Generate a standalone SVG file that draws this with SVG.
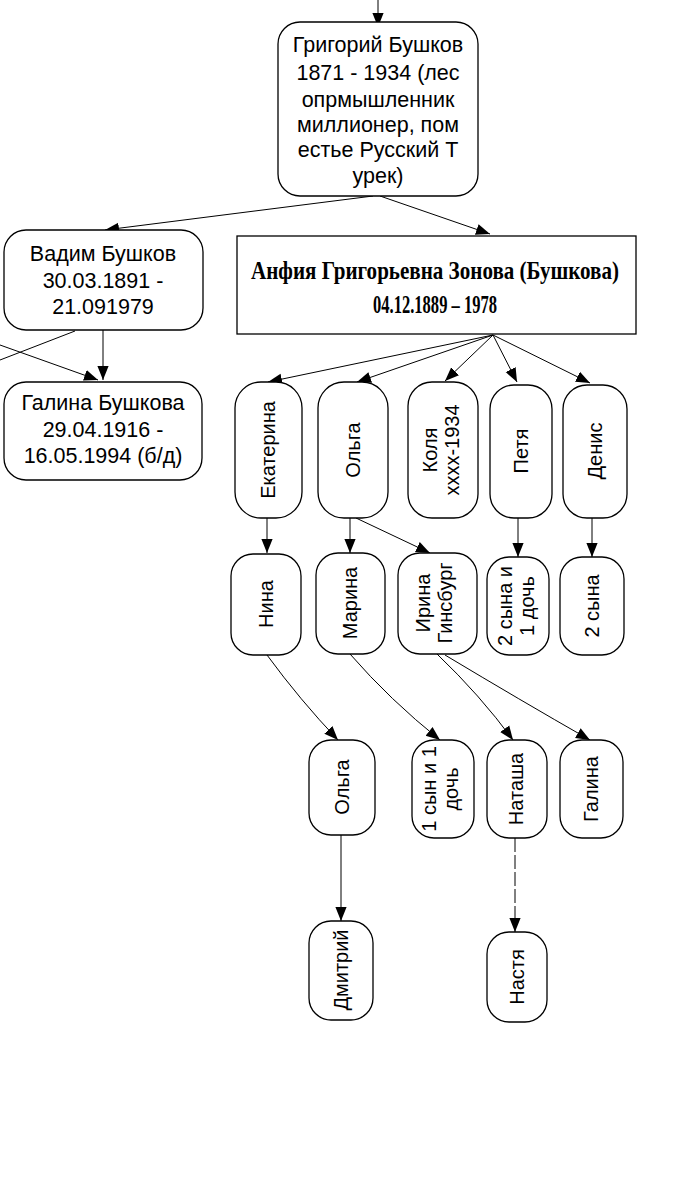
<svg xmlns="http://www.w3.org/2000/svg" width="693" height="1200" viewBox="0 0 693 1200">
<style>
.b{fill:#fff;stroke:#000;stroke-width:1.3}
.t{font-family:"Liberation Sans",Arial,sans-serif;font-size:20px;text-anchor:middle;fill:#000}
.h{font-size:21.5px}
.s{font-family:"Liberation Serif","Times New Roman",serif;font-size:25px;font-weight:bold;text-anchor:middle;fill:#000}
.e{fill:none;stroke:#000;stroke-width:1;marker-end:url(#a)}
</style>
<defs><marker id="a" viewBox="0 0 10 10" refX="10" refY="5" markerWidth="14" markerHeight="14" markerUnits="userSpaceOnUse" orient="auto"><path d="M0,1L10,5L0,9Z"/></marker></defs>
<rect width="693" height="1200" fill="#fff"/>
<g id="connectors">
<path class="e" d="M378,0V27"/>
<path class="e" d="M373,196L105,230"/>
<path class="e" d="M380,196L490,234"/>
<path class="e" d="M103,330V380"/>
<path fill="none" stroke="#000" d="M75,331L0,360"/>
<path class="e" d="M0,345L98,380"/>
<path class="e" d="M493,335L268,382"/>
<path class="e" d="M493,335L357,382"/>
<path class="e" d="M493,335L445,381"/>
<path class="e" d="M493,335L517,382"/>
<path class="e" d="M493,335L590,383"/>
<path class="e" d="M267,518V553"/>
<path class="e" d="M350,518V553"/>
<path class="e" d="M356,518L430,553"/>
<path class="e" d="M518,518V557"/>
<path class="e" d="M592,518V557"/>
<path class="e" d="M267,655Q300,700 338,740"/>
<path class="e" d="M350,654Q390,700 440,740"/>
<path class="e" d="M437,654Q480,695 513,740"/>
<path class="e" d="M445,655Q520,700 590,740"/>
<path class="e" d="M341,835V921"/>
<path class="e" d="M515,838V932" stroke-dasharray="14 3"/>
</g>
<g id="grigoriy"><rect class="b" x="278" y="22" width="200" height="174" rx="22"/>
<text class="t h" x="378" y="52">Григорий Бушков</text><text class="t h" x="378" y="80">1871  - 1934 (лес</text><text class="t h" x="378" y="107">опрмышленник</text><text class="t h" x="378" y="132">миллионер, пом</text><text class="t h" x="378" y="157">естье Русский Т</text><text class="t h" x="378" y="183">урек)</text></g>
<g id="vadim"><rect class="b" x="4" y="230" width="199" height="100" rx="22"/>
<text class="t h" x="103" y="261">Вадим Бушков</text><text class="t h" x="103" y="288">30.03.1891  -</text><text class="t h" x="103" y="314">21.091979</text></g>
<g id="anfiya"><rect class="b" x="237" y="236" width="399" height="98"/>
<text class="s" x="435" y="279" textLength="368" lengthAdjust="spacingAndGlyphs">Анфия Григорьевна Зонова (Бушкова)</text>
<text class="s" x="435" y="313" textLength="124" lengthAdjust="spacingAndGlyphs">04.12.1889 – 1978</text></g>
<g id="galina"><rect class="b" x="4" y="382" width="198" height="98" rx="22"/>
<text class="t h" x="103" y="410">Галина Бушкова</text><text class="t h" x="103" y="437">29.04.1916  -</text><text class="t h" x="103" y="463">16.05.1994 (б/д)</text></g>
<g id="ekaterina"><rect class="b" x="235" y="382" width="67" height="136" rx="26"/><text class="t" transform="translate(275,450) rotate(-90)">Екатерина</text></g>
<g id="olga"><rect class="b" x="318" y="382" width="70" height="136" rx="26"/><text class="t" transform="translate(360,450) rotate(-90)">Ольга</text></g>
<g id="kolya"><rect class="b" x="408" y="382" width="70" height="136" rx="24"/><text class="t" transform="translate(437,450) rotate(-90)">Коля</text><text class="t" transform="translate(459,450) rotate(-90)">хххх-1934</text></g>
<g id="petya"><rect class="b" x="490" y="385" width="62" height="133" rx="24"/><text class="t" transform="translate(528,451) rotate(-90)">Петя</text></g>
<g id="denis"><rect class="b" x="563" y="385" width="64" height="133" rx="24"/><text class="t" transform="translate(602,451) rotate(-90)">Денис</text></g>
<g id="nina"><rect class="b" x="231" y="554" width="70" height="101" rx="22"/><text class="t" transform="translate(273,604) rotate(-90)">Нина</text></g>
<g id="marina"><rect class="b" x="316" y="553" width="69" height="101" rx="22"/><text class="t" transform="translate(357,603) rotate(-90)">Марина</text></g>
<g id="irina"><rect class="b" x="398" y="553" width="79" height="101" rx="22"/><text class="t" transform="translate(430,603) rotate(-90)">Ирина</text><text class="t" transform="translate(452,603) rotate(-90)">Гинсбург</text></g>
<g id="petya-kids"><rect class="b" x="487" y="557" width="62" height="98" rx="22"/><text class="t" transform="translate(512,606) rotate(-90)">2 сына и</text><text class="t" transform="translate(534,606) rotate(-90)">1 дочь</text></g>
<g id="denis-kids"><rect class="b" x="560" y="557" width="64" height="98" rx="22"/><text class="t" transform="translate(599,606) rotate(-90)">2 сына</text></g>
<g id="olga2"><rect class="b" x="309" y="740" width="66" height="95" rx="22"/><text class="t" transform="translate(349,787) rotate(-90)">Ольга</text></g>
<g id="marina-kids"><rect class="b" x="412" y="740" width="62" height="98" rx="22"/><text class="t" transform="translate(436,789) rotate(-90)">1 сын и 1</text><text class="t" transform="translate(458,789) rotate(-90)">дочь</text></g>
<g id="natasha"><rect class="b" x="487" y="740" width="60" height="98" rx="22"/><text class="t" transform="translate(523,789) rotate(-90)">Наташа</text></g>
<g id="galina2"><rect class="b" x="560" y="740" width="63" height="98" rx="22"/><text class="t" transform="translate(598,789) rotate(-90)">Галина</text></g>
<g id="dmitriy"><rect class="b" x="309" y="921" width="64" height="99" rx="22"/><text class="t" transform="translate(348,970) rotate(-90)">Дмитрий</text></g>
<g id="nastya"><rect class="b" x="487" y="932" width="60" height="90" rx="22"/><text class="t" transform="translate(524,977) rotate(-90)">Настя</text></g>
</svg>
